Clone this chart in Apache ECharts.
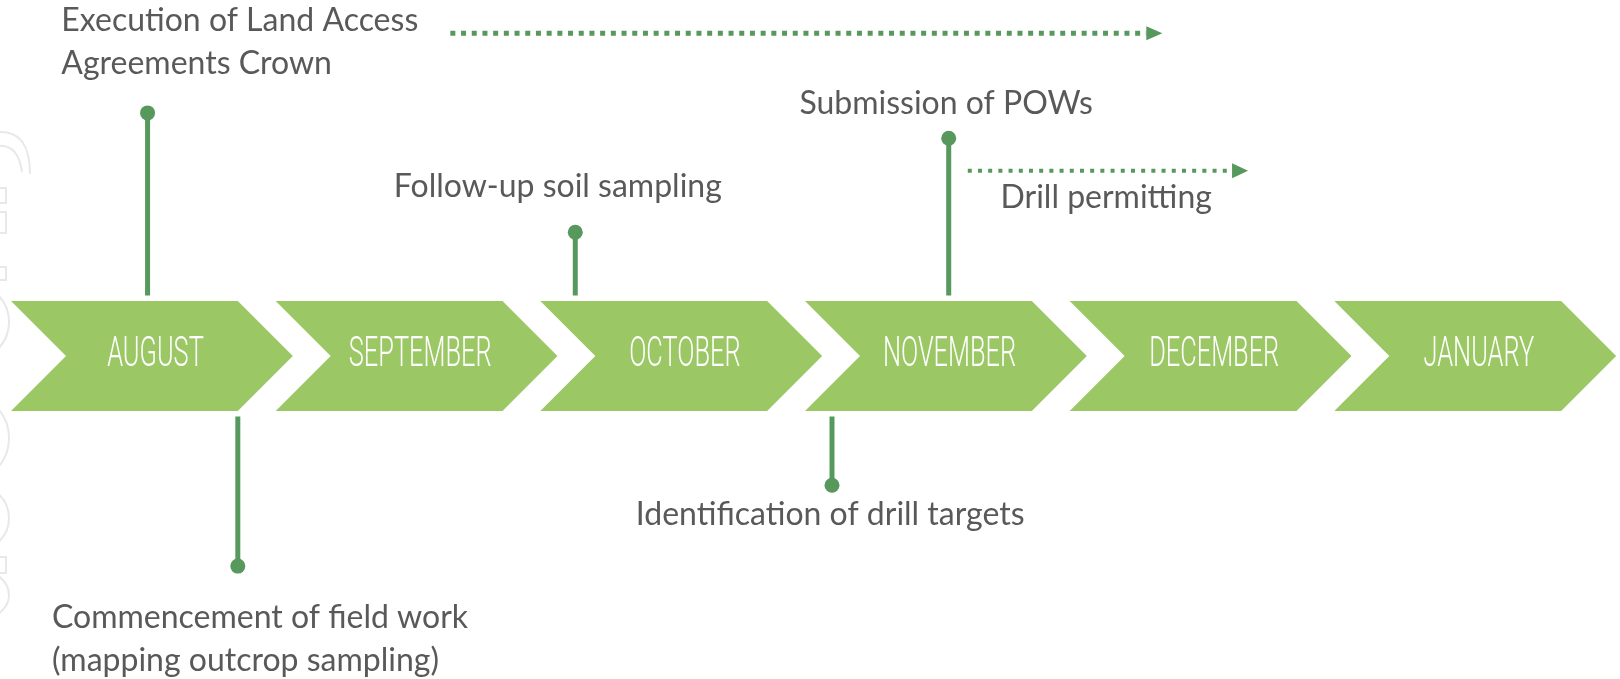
<!DOCTYPE html>
<html>
<head>
<meta charset="utf-8">
<title>Exploration timeline</title>
<script src="https://cdn.jsdelivr.net/npm/echarts@6/dist/echarts.min.js"></script>
<style>
  html, body { margin: 0; padding: 0; background: #fff; }
  #main { width: 1620px; height: 679px; }
</style>
</head>
<body>
<div id="main"></div>
<script>
// months along the timeline (x = months since start of August)
const months = ['AUGUST', 'SEPTEMBER', 'OCTOBER', 'NOVEMBER', 'DECEMBER', 'JANUARY'];
const monthStart = [0, 1, 2, 3, 4, 5];

// milestones: position in months, stem height (chevron half height = 1)
const milestoneMonth = [0.516, 0.857, 2.132, 3.102, 3.543];
const milestoneLevel = [4.42, -3.82, 2.25, -2.35, 3.96];

// dotted arrows (ongoing activities)
const spanStart = [1.66, 3.615];
const spanEnd = [4.35, 4.674];
const spanLevel = [5.87, 3.37];

// annotation texts and where they sit
const labelText = [
    'Execution of Land Access\nAgreements Crown',
    'Commencement of field work\n(mapping outcrop sampling)',
    'Follow-up soil sampling',
    'Identification of drill targets',
    'Submission of POWs',
    'Drill permitting'
];
const labelX = [0.19, 0.155, 2.066, 3.095, 3.533, 4.138];
const labelY = [5.71, -5.156, 3.07, -2.89, 4.59, 2.87];
const labelAlign = ['left', 'left', 'center', 'center', 'center', 'center'];

const GREEN = '#9BC865';
const DARK = '#57985C';
const GRAY = '#595959';

let myChart = echarts.init(document.getElementById('main'));

let watermark = [];
[[322, 35], [438, 38], [518, 32], [595, 25]].forEach(function (e) {
    watermark.push({
        type: 'ellipse', silent: true,
        shape: { cx: -22, cy: e[0], rx: 31, ry: e[1] },
        style: { fill: 'none', stroke: '#e8e8e8', lineWidth: 2 }
    });
});
[[188, 15], [212, 21], [267, 13], [557, 16]].forEach(function (r) {
    watermark.push({
        type: 'rect', silent: true,
        shape: { x: -10, y: r[0], width: 16, height: r[1] },
        style: { fill: 'none', stroke: '#e8e8e8', lineWidth: 2 }
    });
});
watermark.push({
    type: 'bezierCurve', silent: true,
    shape: { x1: -2, y1: 132, cpx1: 30, cpy1: 130, x2: 30, y2: 174 },
    style: { fill: 'none', stroke: '#e8e8e8', lineWidth: 2 }
});
watermark.push({
    type: 'bezierCurve', silent: true,
    shape: { x1: -2, y1: 146, cpx1: 18, cpy1: 144, x2: 22, y2: 172 },
    style: { fill: 'none', stroke: '#e8e8e8', lineWidth: 2 }
});

myChart.setOption({
    animation: false,
    graphic: watermark,
    grid: { left: 11, right: 21, top: 26, bottom: 48 },
    xAxis: { type: 'value', min: 0, max: 6, show: false },
    yAxis: { type: 'value', min: -5, max: 6, show: false },
    series: [{
        // month chevrons
        type: 'custom',
        data: monthStart.map(function (s) { return [s, 0]; }),
        renderItem: function (params, api) {
            let s = api.value(0);
            let tl = api.coord([s, 1]);
            let bl = api.coord([s, -1]);
            let tr = api.coord([s + 0.857, 1]);
            let h = (bl[1] - tl[1]) / 2;
            let midY = tl[1] + h;
            let c = api.coord([s + 0.546, 0]);
            return {
                type: 'group',
                children: [{
                    type: 'polygon',
                    shape: {
                        points: [
                            [tl[0], tl[1]], [tr[0], tl[1]], [tr[0] + h, midY],
                            [tr[0], bl[1]], [tl[0], bl[1]], [tl[0] + h, midY]
                        ]
                    },
                    style: { fill: GREEN }
                }, {
                    type: 'text',
                    x: c[0],
                    y: c[1] - 1,
                    scaleX: 0.59,
                    style: {
                        text: months[params.dataIndex],
                        fill: '#fff',
                        font: '300 43px Roboto',
                        align: 'center',
                        verticalAlign: 'middle'
                    }
                }]
            };
        }
    }, {
        // milestone stems with dots
        type: 'custom',
        data: milestoneMonth.map(function (m, i) { return [m, milestoneLevel[i]]; }),
        renderItem: function (params, api) {
            let x = api.value(0);
            let lv = api.value(1);
            let base = api.coord([x, lv > 0 ? 1.1 : -1.1]);
            let end = api.coord([x, lv]);
            return {
                type: 'group',
                children: [{
                    type: 'line',
                    shape: { x1: base[0], y1: base[1], x2: end[0], y2: end[1] },
                    style: { stroke: DARK, lineWidth: 5 }
                }, {
                    type: 'circle',
                    shape: { cx: end[0], cy: end[1], r: 7.5 },
                    style: { fill: DARK }
                }]
            };
        }
    }, {
        // dotted arrows
        type: 'custom',
        data: spanStart.map(function (s, i) { return [s, spanEnd[i], spanLevel[i]]; }),
        renderItem: function (params, api) {
            let p0 = api.coord([api.value(0), api.value(2)]);
            let p1 = api.coord([api.value(1), api.value(2)]);
            let big = params.dataIndex === 0;
            let w = big ? 5 : 4;
            let headL = 16;
            let headH = big ? 7 : 7.5;
            return {
                type: 'group',
                children: [{
                    type: 'line',
                    shape: { x1: p0[0], y1: p0[1], x2: p1[0] - headL, y2: p1[1] },
                    style: { stroke: DARK, lineWidth: w, lineDash: big ? [5, 5.7] : [4, 6.2], lineCap: 'butt' }
                }, {
                    type: 'polygon',
                    shape: { points: [[p1[0] - headL, p1[1] - headH], [p1[0], p1[1]], [p1[0] - headL, p1[1] + headH]] },
                    style: { fill: DARK }
                }]
            };
        }
    }, {
        // annotation labels
        type: 'custom',
        data: labelX.map(function (x, i) { return [x, labelY[i]]; }),
        renderItem: function (params, api) {
            let p = api.coord([api.value(0), api.value(1)]);
            return {
                type: 'text',
                x: p[0],
                y: p[1],
                style: {
                    text: labelText[params.dataIndex],
                    fill: GRAY,
                    font: '32px Lato',
                    lineHeight: 43,
                    align: labelAlign[params.dataIndex],
                    verticalAlign: 'middle'
                }
            };
        }
    }]
});
</script>
</body>
</html>
